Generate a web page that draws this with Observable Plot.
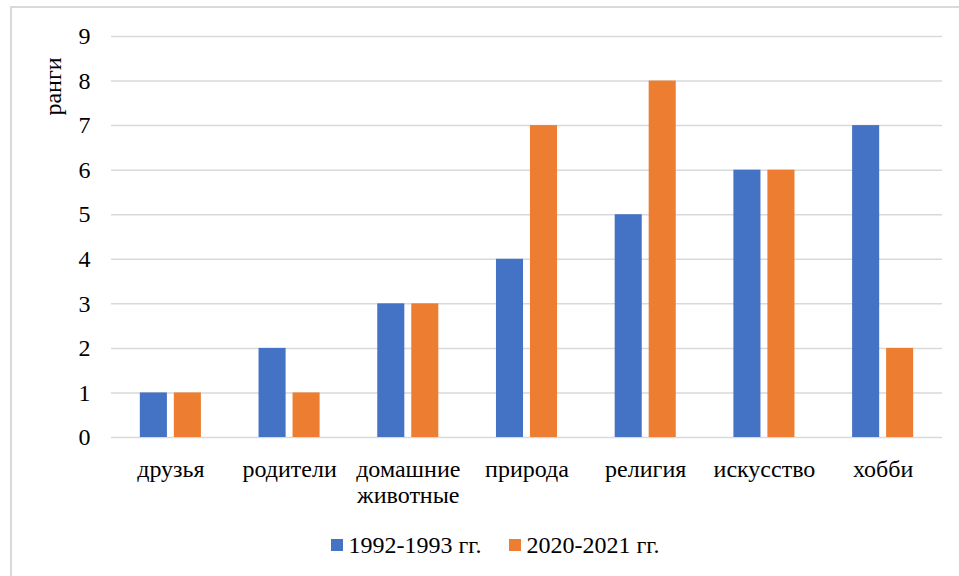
<!DOCTYPE html>
<html>
<head>
<meta charset="utf-8">
<script src="https://cdn.jsdelivr.net/npm/d3@7"></script>
<script src="https://cdn.jsdelivr.net/npm/@observablehq/plot@0.6"></script>
<style>
  body { margin: 0; background: #fff; font-family: "Liberation Serif", serif; }
  #frame { position: absolute; left: 10px; top: 6px; width: 960px; height: 580px; border: 2px solid #d9d9d9; box-sizing: border-box; }
  #chart { position: absolute; left: 0; top: 0; }
  #legend { position: absolute; left: 0; top: 531px; width: 990px; display: flex; justify-content: center; gap: 27px; font-size: 24px; line-height: 28px; color: #000; }
  .item { display: flex; align-items: center; }
  .sw { width: 12px; height: 12px; margin-right: 6px; }
</style>
</head>
<body>
<div id="frame"></div>
<div id="chart"></div>
<div id="legend"></div>
<script>
const categories = ["друзья", "родители", "домашние\nживотные", "природа", "религия", "искусство", "хобби"];
const series = ["1992-1993 гг.", "2020-2021 гг."];
const values1992 = [1, 2, 3, 4, 5, 6, 7];
const values2020 = [1, 1, 3, 7, 8, 6, 2];
const yTicks = [0, 1, 2, 3, 4, 5, 6, 7, 8, 9];
const colors = ["#4472C4", "#ED7D31"];

const d1 = categories.map((c, i) => ({cat: c, v: values1992[i]}));
const d2 = categories.map((c, i) => ({cat: c, v: values2020[i]}));

const FONT = "Liberation Serif, serif";
const plot = Plot.plot({
  width: 959,
  height: 510,
  marginLeft: 111,
  marginRight: 17,
  marginTop: 36,
  marginBottom: 73,
  style: {fontFamily: FONT, fontSize: "24px", color: "#000", background: "transparent"},
  x: {domain: categories, paddingInner: 0.772, paddingOuter: 0.386, round: false, label: null},
  y: {domain: [0, 9], ticks: yTicks, label: null},
  marks: [
    Plot.ruleY(yTicks, {stroke: "#d9d9d9", strokeWidth: 1.5}),
    Plot.barY(d1, {x: "cat", y: "v", fill: colors[0], dx: -17}),
    Plot.barY(d2, {x: "cat", y: "v", fill: colors[1], dx: 17}),
    Plot.axisX({tickSize: 0, tickPadding: 20, fontSize: 24, fontFamily: FONT, lineHeight: 1.12, label: null}),
    Plot.axisY({ticks: yTicks, tickSize: 0, tickPadding: 21, fontSize: 24, fontFamily: FONT, label: null, tickFormat: d3.format("d")}),
    Plot.text(["ранги"], {frameAnchor: "top-left", text: d => d, rotate: -90, dx: -58, dy: 50, fontSize: 24, fontFamily: FONT, textAnchor: "middle", lineAnchor: "middle"})
  ]
});
document.getElementById("chart").appendChild(plot);

const legend = document.getElementById("legend");
series.forEach((s, i) => {
  const it = document.createElement("div");
  it.className = "item";
  const sw = document.createElement("span");
  sw.className = "sw";
  sw.style.background = colors[i];
  const t = document.createElement("span");
  t.textContent = s;
  it.appendChild(sw);
  it.appendChild(t);
  legend.appendChild(it);
});
</script>
</body>
</html>
